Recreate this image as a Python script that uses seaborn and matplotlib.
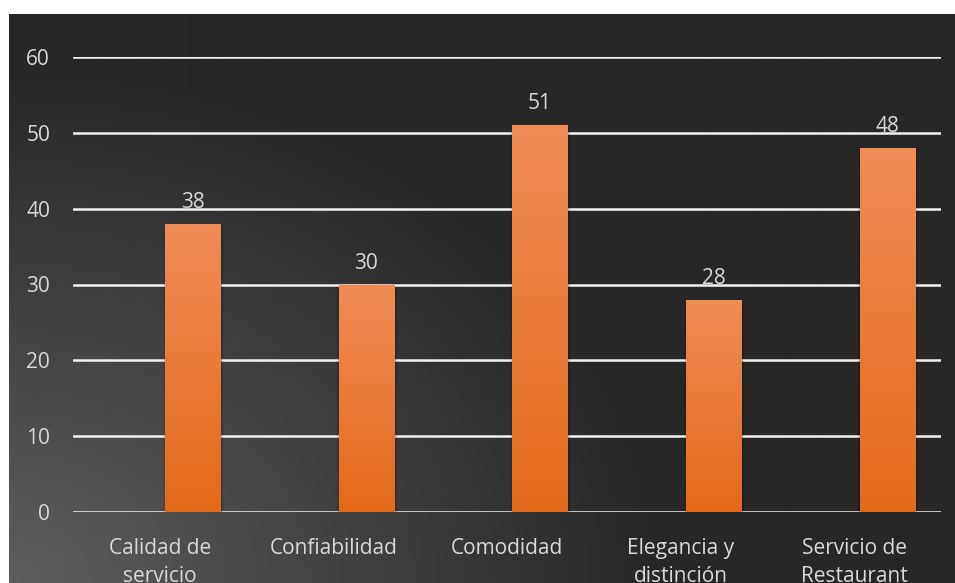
import numpy as np
import pandas as pd
import matplotlib.pyplot as plt
import matplotlib.colors as mcolors
import seaborn as sns

# datos
categorias = ['Calidad de\nservicio', 'Confiabilidad', 'Comodidad',
              'Elegancia y\ndistinción', 'Servicio de\nRestaurant']
valores = [38, 30, 51, 28, 48]

df = pd.DataFrame({'Categoria': categorias, 'Valor': valores})

sns.set_theme(style='dark')
plt.rcParams['font.family'] = ['Open Sans', 'DejaVu Sans']

fig = plt.figure(figsize=(9.55, 5.83), dpi=100)
fig.patch.set_facecolor('white')

# fondo oscuro con degradado radial (más claro abajo a la izquierda)
bg = fig.add_axes([9 / 955, 0, 946 / 955, 569 / 583])
bg.set_axis_off()
h, w = 569, 946
yy, xx = np.mgrid[0:h, 0:w]
dist = np.sqrt(xx ** 2 + (yy - h) ** 2 * 1.6)
t = np.clip(dist / 650, 0, 1)
c_light = np.array(mcolors.to_rgb('#5e5e5e'))
c_dark = np.array(mcolors.to_rgb('#272727'))
img = c_light[None, None, :] * (1 - t[..., None]) + c_dark[None, None, :] * t[..., None]
bg.imshow(img, aspect='auto', extent=[0, 1, 0, 1], origin='upper')

ax = fig.add_axes([73 / 955, (583 - 512) / 583, (941 - 73) / 955, (512 - 57) / 583])
ax.patch.set_alpha(0)

sns.barplot(data=df, x='Categoria', y='Valor', color='#ED7D31', width=0.317,
            ax=ax, edgecolor='none', linewidth=0)

# las barras van corridas a la derecha (como en Excel con otra serie vacía)
offset = 0.19
grad = np.linspace(0, 1, 256)[:, None]
c_top = np.array(mcolors.to_rgb('#F08C57'))
c_bot = np.array(mcolors.to_rgb('#E46A1A'))
gimg = c_top[None, None, :] * (1 - grad[..., None]) + c_bot[None, None, :] * grad[..., None]
for p in ax.patches:
    p.set_x(p.get_x() + offset)
    x0, y0 = p.get_x(), p.get_y()
    pw, ph = p.get_width(), p.get_height()
    # sombra suave
    for k, a in enumerate([0.10, 0.07, 0.04]):
        ax.bar(x0 + pw / 2 + 0.004, ph, width=pw + 0.012 * (k + 1), bottom=-0.25 * (k + 1),
               color='black', alpha=a, zorder=2.5, linewidth=0)
    im = ax.imshow(gimg, extent=[x0, x0 + pw, y0, y0 + ph], aspect='auto',
                   zorder=4, origin='upper')
    im.set_clip_path(p)
    ax.text(x0 + pw / 2, y0 + ph + 2.1, str(int(ph)), ha='center', va='baseline',
            color='#D9D9D9', fontsize=15, zorder=5)

ax.set_xlim(-0.5, 4.5)
ax.set_ylim(0, 60)
ax.set_yticks(range(0, 61, 10))
ax.set_axisbelow(True)
ax.yaxis.grid(True, color='#F2F2F2', linewidth=1.8)
ax.xaxis.grid(False)
for s in ax.spines.values():
    s.set_visible(False)
ax.tick_params(axis='both', colors='#D9D9D9', labelsize=15, length=0)
ax.tick_params(axis='y', pad=16.5)
ax.tick_params(axis='x', pad=19)
for lbl in ax.get_xticklabels():
    lbl.set_linespacing(1.4)
ax.set_xlabel('')
ax.set_ylabel('')

fig.savefig('out.png', dpi=100)
